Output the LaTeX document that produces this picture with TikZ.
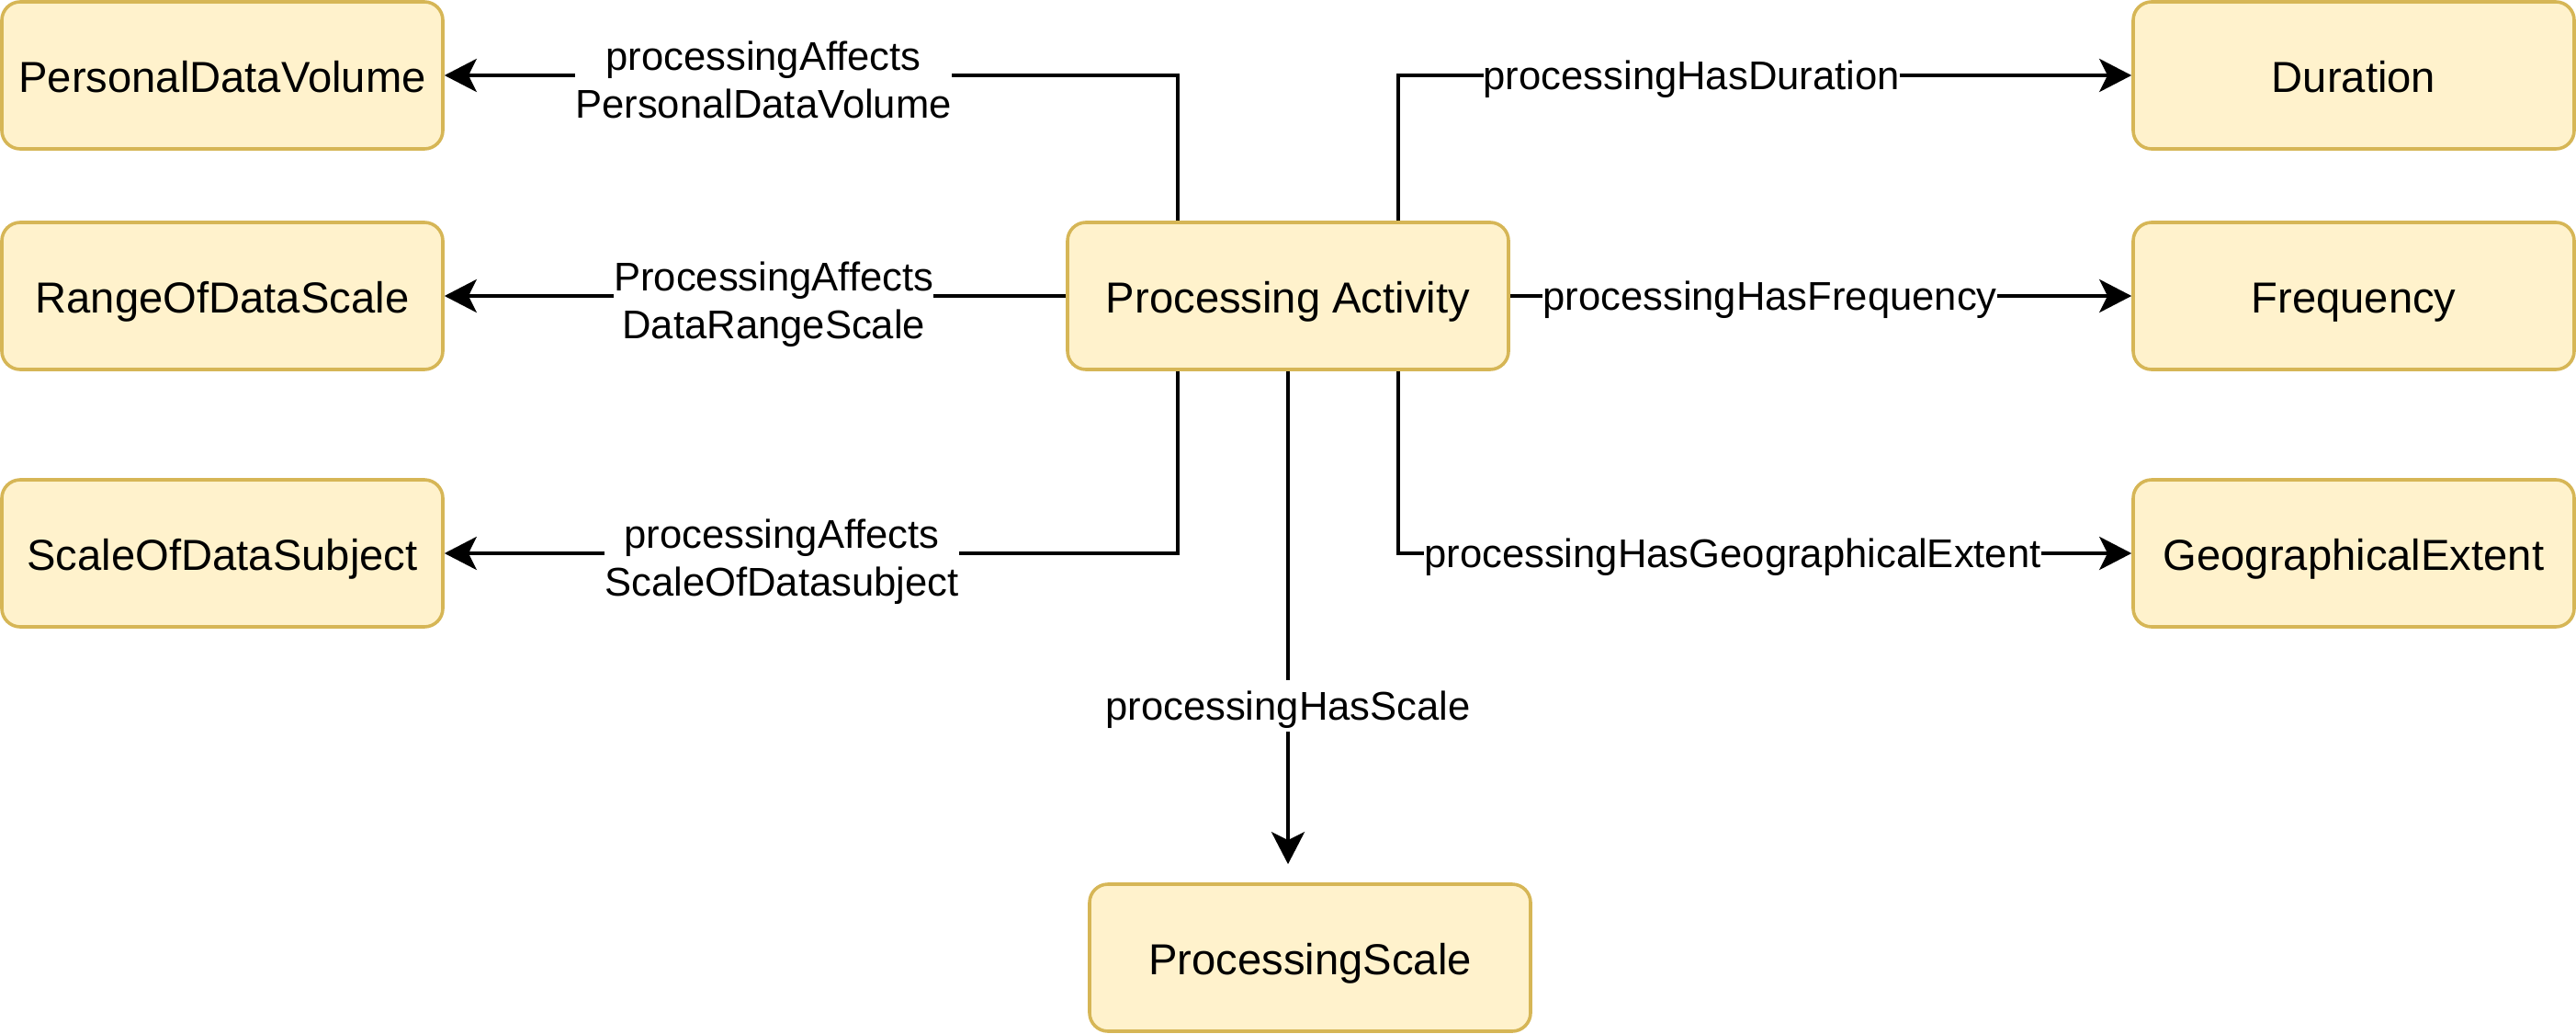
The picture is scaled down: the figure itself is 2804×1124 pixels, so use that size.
\documentclass[tikz,border=0pt]{standalone}
\usepackage{fontspec}
\setmainfont{Liberation Sans}
\usetikzlibrary{arrows.meta}
\definecolor{boxfill}{HTML}{FFF2CC}
\definecolor{boxdraw}{HTML}{D6B656}
\begin{document}
\begin{tikzpicture}[x=0.25pt,y=-0.25pt,
  box/.style={draw=boxdraw, fill=boxfill, line width=0.9pt, rounded corners=5pt,
    minimum width=120pt, minimum height=40pt, inner sep=0pt,
    text height=11pt, text depth=2pt,
    font=\fontsize{11.8}{14}\selectfont},
  conn/.style={draw=black, line width=0.9pt,
    -{Stealth[length=8.75pt,width=9pt,inset=2.2pt]}},
  lab/.style={fill=white, inner xsep=0pt, inner ysep=0pt,
    text height=10.9pt, text depth=3pt,
    font=\fontsize{10.9}{13}\selectfont, text=black},
  lab2/.style={fill=white, inner xsep=0pt, inner ysep=1pt, align=center,
    anchor=base, yshift=-11.6pt, font=\fontsize{10.9}{13}\selectfont, text=black}]
\useasboundingbox (0,0) rectangle (2804,1124);

\node[box] (pdv)  at (242,82)   {PersonalDataVolume};
\node[box] (rods) at (242,322)  {RangeOfDataScale};
\node[box] (sods) at (242,602)  {ScaleOfDataSubject};
\node[box] (pa)   at (1402,322) {Processing Activity};
\node[box] (dur)  at (2562,82)  {Duration};
\node[box] (freq) at (2562,322) {Frequency};
\node[box] (geo)  at (2562,602) {GeographicalExtent};
\node[box] (ps)   at (1426,1042) {ProcessingScale};

\path (pa.south |- ps.north) ++(0,-20) coordinate (pstip);

\draw[conn] ([xshift=-30pt]pa.north) |- (pdv.east)
  node[lab2, pos=0.7825] (l1) {processingAffects\\PersonalDataVolume};
\draw[conn] (pa.west) -- (rods.east)
  node[lab2, pos=0.47] (l2) {ProcessingAffects\\DataRangeScale};
\draw[conn] ([xshift=-30pt]pa.south) |- (sods.east)
  node[lab2, pos=0.77] (l3) {processingAffects\\ScaleOfDatasubject};
\draw[conn] (pa.south) -- (pstip)
  node[lab, pos=0.679] (l4) {processingHasScale};
\draw[conn] ([xshift=30pt]pa.north) |- (dur.west)
  node[lab, pos=0.70] (l5) {processingHasDuration};
\draw[conn] (pa.east) -- (freq.west)
  node[lab, pos=0.418] (l6) {processingHasFrequency};
\draw[conn] ([xshift=30pt]pa.south) |- (geo.west)
  node[lab, pos=0.728] (l7) {processingHasGeographicalExtent};
\end{tikzpicture}
\end{document}
